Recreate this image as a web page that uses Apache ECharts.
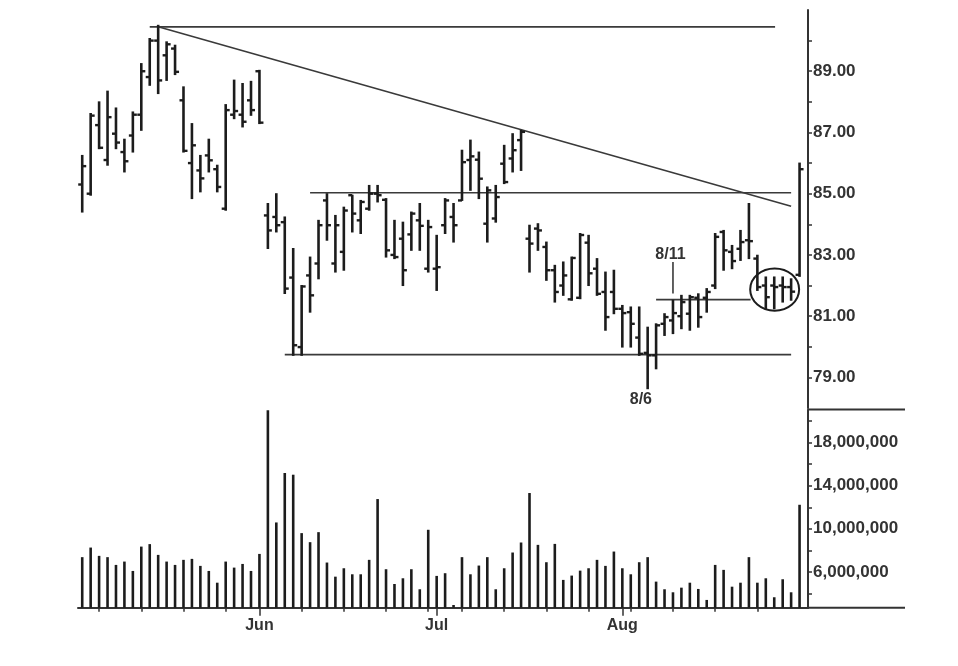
<!DOCTYPE html>
<html>
<head>
<meta charset="utf-8">
<script src="https://cdn.jsdelivr.net/npm/echarts@6/dist/echarts.min.js"></script>
<style>
html,body{margin:0;padding:0;background:#ffffff;}
#chart{width:958px;height:666px;}
</style>
</head>
<body>
<div id="chart"></div>
<script>
// ---- data ----
const dates = [
 '2008-05-01','2008-05-02','2008-05-05','2008-05-06','2008-05-07','2008-05-08','2008-05-09',
 '2008-05-12','2008-05-13','2008-05-14','2008-05-15','2008-05-16','2008-05-19','2008-05-20',
 '2008-05-21','2008-05-22','2008-05-23','2008-05-27','2008-05-28','2008-05-29','2008-05-30',
 '2008-06-02','2008-06-03','2008-06-04','2008-06-05','2008-06-06','2008-06-09','2008-06-10',
 '2008-06-11','2008-06-12','2008-06-13','2008-06-16','2008-06-17','2008-06-18','2008-06-19',
 '2008-06-20','2008-06-23','2008-06-24','2008-06-25','2008-06-26','2008-06-27','2008-06-30',
 '2008-07-01','2008-07-02','2008-07-03','2008-07-07','2008-07-08','2008-07-09','2008-07-10',
 '2008-07-11','2008-07-14','2008-07-15','2008-07-16','2008-07-17','2008-07-18','2008-07-21',
 '2008-07-22','2008-07-23','2008-07-24','2008-07-25','2008-07-28','2008-07-29','2008-07-30',
 '2008-07-31','2008-08-01','2008-08-04','2008-08-05','2008-08-06','2008-08-07','2008-08-08',
 '2008-08-11','2008-08-12','2008-08-13','2008-08-14','2008-08-15','2008-08-18','2008-08-19',
 '2008-08-20','2008-08-21','2008-08-22','2008-08-25','2008-08-26','2008-08-27','2008-08-28',
 '2008-08-29','2008-09-02'
];
const opens = [
 85.30,85.00,87.24,86.10,86.96,86.36,86.90,87.58,88.81,90.00,89.52,89.74,88.05,86.00,85.76,86.25,85.80,84.51,87.58,87.58,88.05,
 89.00,84.29,84.24,84.07,82.26,79.99,82.33,82.72,84.78,82.72,83.10,84.95,84.13,84.51,85.00,84.80,83.00,83.53,83.67,84.13,82.55,
 82.55,83.97,84.24,84.78,86.10,86.11,84.02,84.19,85.98,86.15,86.75,83.53,83.86,83.26,82.50,82.00,81.55,81.60,83.40,82.55,81.79,81.79,
 81.24,81.13,80.30,79.80,79.72,80.75,80.86,81.00,81.08,81.60,81.60,82.00,83.75,83.10,83.20,83.48,82.88,82.00,82.00,82.00,81.95,
 82.35
];
const highs = [
 86.25,87.62,88.00,88.35,87.80,86.78,87.67,89.25,90.07,90.50,89.96,89.85,88.49,87.29,86.25,86.78,85.93,87.91,88.71,88.60,88.67,
 89.03,84.68,85.00,84.24,83.21,82.00,82.93,84.13,85.00,84.29,84.56,84.95,84.78,85.27,85.27,84.84,84.13,84.07,84.40,84.68,84.13,
 83.64,84.84,84.68,86.42,86.75,86.36,85.22,85.27,86.58,86.96,87.07,83.97,84.02,83.42,82.66,82.77,82.93,83.70,83.64,82.88,82.44,82.50,
 81.35,81.30,81.30,80.64,80.75,81.08,81.52,81.68,81.68,81.73,81.90,83.70,83.80,83.31,83.80,84.68,82.99,82.28,82.28,82.28,82.22,
 86.00
];
const lows = [
 84.40,84.95,86.47,85.93,86.47,85.71,86.36,87.07,88.54,88.27,88.70,88.89,86.36,84.84,85.06,85.71,85.06,84.46,87.45,87.18,87.56,
 87.29,83.21,83.75,81.74,79.72,79.72,81.13,82.22,83.48,82.44,82.50,83.75,83.70,84.46,84.73,82.93,82.88,82.00,83.15,83.15,82.44,
 81.84,83.70,83.42,84.78,85.11,84.84,83.42,84.07,85.33,85.71,85.76,82.44,83.15,82.17,81.46,81.68,81.52,81.57,82.00,81.68,80.54,81.08,
 79.99,79.99,79.72,78.63,79.28,80.37,80.43,80.59,80.54,80.64,81.13,81.90,82.50,82.55,82.82,82.88,81.84,81.24,81.24,81.46,81.52,
 82.30
];
const closes = [
 85.90,87.55,86.50,87.50,86.67,86.06,87.58,89.00,90.00,88.70,89.88,88.98,86.40,86.58,85.50,86.09,85.22,87.73,87.70,87.35,87.73,
 87.32,83.80,83.97,81.90,80.05,81.97,81.68,83.97,83.97,83.97,84.45,84.35,84.73,85.00,84.95,83.15,82.93,82.50,84.35,83.95,83.91,
 82.60,84.78,83.97,86.03,86.22,85.49,85.11,84.89,85.38,86.42,87.02,83.37,83.80,82.50,81.79,82.33,82.90,83.65,82.40,81.73,80.97,81.24,
 81.10,80.75,79.77,79.72,80.70,80.97,81.10,81.46,81.62,80.97,81.79,83.59,83.15,82.80,83.42,83.45,81.95,81.62,81.95,81.95,81.80,
 85.80
];
const volumes = [
 7370000,8260000,7490000,7370000,6650000,6960000,6090000,8350000,8580000,7580000,6960000,6650000,7120000,7210000,6560000,6090000,5000000,6960000,6400000,6740000,6090000,
 7670000,21000000,10590000,15180000,15020000,9600000,8760000,9690000,6870000,5560000,6340000,5780000,5780000,7120000,12760000,6250000,4880000,5410000,6250000,4390000,9910000,
 5630000,5880000,2930000,7370000,5780000,6590000,7370000,4390000,6340000,7800000,8730000,13320000,8510000,6900000,8600000,5260000,5660000,6120000,6340000,7120000,6560000,7890000,
 6340000,5780000,6900000,7370000,5100000,4390000,4110000,4540000,5000000,4420000,3400000,6650000,6190000,4630000,5000000,7370000,5000000,5410000,3650000,5320000,4110000,
 12230000
];
const priceTicks = [79,80,81,82,83,84,85,86,87,88,89,90];
const priceLabels = [79,81,83,85,87,89];
const volumeTicks = [4000000,6000000,8000000,10000000,12000000,14000000,16000000,18000000,20000000];
const volumeLabels = [6000000,10000000,14000000,18000000];
const monthNames = ['Jan','Feb','Mar','Apr','May','Jun','Jul','Aug','Sep','Oct','Nov','Dec'];
// annotation lines, in [bar index, price]
const topLine = [[8.0, 90.45], [82.1, 90.45]];
const downTrend = [[9.0, 90.45], [84.0, 84.59]];
const resistance = [[27.0, 85.03], [84.0, 85.03]];
const support = [[24.0, 79.745], [84.0, 79.745]];
const shortLine = [[68.0, 81.54], [79.2, 81.54]];
const marker811 = [[70.0, 82.77], [70.0, 81.74]];
const notes = [[69.7, 83.0, '8/11'], [66.2, 78.29, '8/6']];
const circle = [[82.05, 81.87, 2.9, 0.69]];

// ---- derived ----
const ohlc = dates.map((d, i) => [i, opens[i], highs[i], lows[i], closes[i]]);
const vol = dates.map((d, i) => [i, volumes[i]]);
const dObj = dates.map(s => new Date(s + 'T00:00:00Z'));
const weekTicks = [], monthTicks = [];
for (let i = 1; i < dates.length - 1; i++) {
  if (dObj[i].getUTCDay() < dObj[i - 1].getUTCDay()) weekTicks.push(i);
  if (dObj[i].getUTCMonth() !== dObj[i - 1].getUTCMonth()) monthTicks.push(i);
}

const INK = '#1c1c1c';
const AX = '#333333';
const FONT = "'Liberation Sans', Arial, sans-serif";
const XMIN = -0.5, XMAX = 86;

const chart = echarts.init(document.getElementById('chart'), null, {renderer: 'canvas'});

function lineSeries(pts) {
  return {
    type: 'line', xAxisIndex: 0, yAxisIndex: 0, data: pts,
    symbol: 'none', showSymbol: false, silent: true, animation: false,
    lineStyle: {color: '#3a3a3a', width: 1.6}, z: 3
  };
}

const option = {
  animation: false,
  backgroundColor: '#ffffff',
  grid: [
    {left: 78, top: 10, width: 730, height: 398, outerBoundsMode: 'none'},
    {left: 78, top: 409.5, width: 730, height: 198.2, outerBoundsMode: 'none'}
  ],
  xAxis: [
    {type: 'value', gridIndex: 0, min: XMIN, max: XMAX, show: false},
    {type: 'value', gridIndex: 1, min: XMIN, max: XMAX, position: 'bottom',
     axisLine: {show: true, onZero: false, lineStyle: {color: AX, width: 2}},
     axisTick: {show: true, length: 4, customValues: weekTicks, lineStyle: {color: AX, width: 1.5}},
     axisLabel: {show: false}, splitLine: {show: false}},
    {type: 'value', gridIndex: 1, min: XMIN, max: XMAX, position: 'bottom',
     axisLine: {show: false, onZero: false},
     axisTick: {show: true, length: 8, customValues: monthTicks, lineStyle: {color: AX, width: 1.5}},
     axisLabel: {show: true, customValues: monthTicks, margin: 10,
       formatter: v => monthNames[dObj[Math.round(v)].getUTCMonth()],
       color: AX, fontSize: 16, fontWeight: 'bold', fontFamily: FONT},
     splitLine: {show: false}}
  ],
  yAxis: [
    {type: 'value', gridIndex: 0, position: 'right', min: 78, max: 91,
     axisLine: {show: true, onZero: false, lineStyle: {color: AX, width: 2}},
     axisTick: {show: true, length: 4, customValues: priceTicks, lineStyle: {color: AX, width: 1.5}},
     axisLabel: {show: true, customValues: priceLabels, margin: 5, formatter: v => v.toFixed(2),
       color: AX, fontSize: 17, fontWeight: 'bold', fontFamily: FONT},
     splitLine: {show: false}},
    {type: 'value', gridIndex: 1, position: 'right', min: 2680000, max: 21070000,
     axisLine: {show: true, onZero: false, lineStyle: {color: AX, width: 2}},
     axisTick: {show: true, length: 4, customValues: volumeTicks, lineStyle: {color: AX, width: 1.5}},
     axisLabel: {show: true, customValues: volumeLabels, margin: 5,
       formatter: v => Number(v).toLocaleString('en-US'),
       color: AX, fontSize: 17, fontWeight: 'bold', fontFamily: FONT},
     splitLine: {show: false}}
  ],
  graphic: [
    {type: 'line', shape: {x1: 808, y1: 409.5, x2: 905, y2: 409.5}, style: {stroke: AX, lineWidth: 2}, silent: true},
    {type: 'line', shape: {x1: 808, y1: 607.7, x2: 905, y2: 607.7}, style: {stroke: AX, lineWidth: 2}, silent: true}
  ],
  series: [
    {
      type: 'custom', xAxisIndex: 0, yAxisIndex: 0, data: ohlc,
      encode: {x: 0, y: [1, 2, 3, 4]}, z: 4, silent: true,
      renderItem: function (params, api) {
        const x = api.value(0);
        const pO = api.coord([x, api.value(1)]);
        const pH = api.coord([x, api.value(2)]);
        const pL = api.coord([x, api.value(3)]);
        const pC = api.coord([x, api.value(4)]);
        return {
          type: 'group',
          children: [
            {type: 'line', shape: {x1: pH[0], y1: pH[1] - 0.5, x2: pL[0], y2: pL[1] + 0.5}, style: {stroke: INK, lineWidth: 2.6}},
            {type: 'line', shape: {x1: pO[0] - 4, y1: pO[1], x2: pO[0], y2: pO[1]}, style: {stroke: INK, lineWidth: 2.4}},
            {type: 'line', shape: {x1: pC[0], y1: pC[1], x2: pC[0] + 4, y2: pC[1]}, style: {stroke: INK, lineWidth: 2.4}}
          ]
        };
      }
    },
    {
      type: 'custom', xAxisIndex: 1, yAxisIndex: 1, data: vol,
      encode: {x: 0, y: 1}, z: 4, silent: true,
      renderItem: function (params, api) {
        const p = api.coord([api.value(0), api.value(1)]);
        const bottom = params.coordSys.y + params.coordSys.height;
        return {type: 'rect', shape: {x: p[0] - 1.3, y: p[1], width: 2.6, height: bottom - p[1]}, style: {fill: INK}};
      }
    },
    lineSeries(topLine),
    lineSeries(downTrend),
    lineSeries(resistance),
    lineSeries(support),
    lineSeries(shortLine),
    lineSeries(marker811),
    {
      type: 'custom', xAxisIndex: 0, yAxisIndex: 0, data: circle, z: 5, silent: true,
      encode: {x: 0, y: 1},
      renderItem: function (params, api) {
        const c = api.coord([api.value(0), api.value(1)]);
        const s = api.size([api.value(2), api.value(3)]);
        return {type: 'ellipse', shape: {cx: c[0], cy: c[1], rx: s[0], ry: s[1]},
                style: {fill: 'none', stroke: INK, lineWidth: 2}};
      }
    },
    {
      type: 'custom', xAxisIndex: 0, yAxisIndex: 0, data: notes, z: 6, silent: true,
      encode: {x: 0, y: 1},
      renderItem: function (params, api) {
        const c = api.coord([api.value(0), api.value(1)]);
        return {type: 'text', x: c[0], y: c[1],
                style: {text: notes[params.dataIndex][2], fill: AX, font: "bold 16px " + FONT,
                        align: 'center', verticalAlign: 'middle'}};
      }
    }
  ]
};
chart.setOption(option);
</script>
</body>
</html>
